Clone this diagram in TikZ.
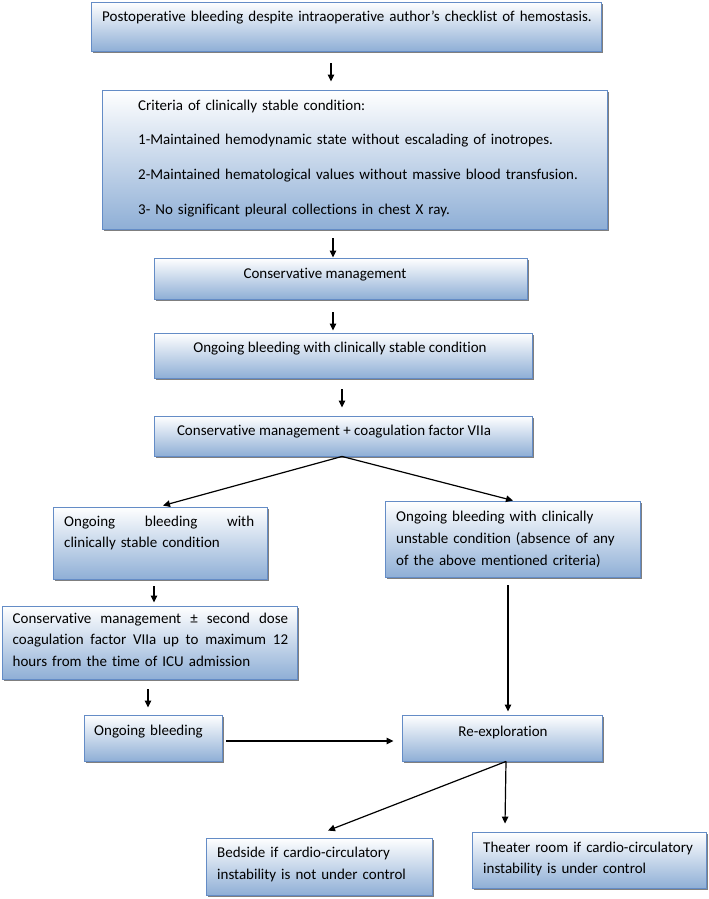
\documentclass[tikz,border=0pt]{standalone}
\usepackage{fontspec}
\setmainfont{Carlito}[Ligatures=NoCommon]
\usetikzlibrary{arrows.meta,shadows,calc}
\definecolor{bordc}{RGB}{100,140,198}
\definecolor{gradc}{RGB}{143,175,214}
\begin{document}
\begin{tikzpicture}[x=1pt,y=-1pt,
  box/.style={draw=bordc, line width=0.9pt, top color=white, bottom color=gradc,
    drop shadow={shadow xshift=2.2pt, shadow yshift=-2.2pt, fill=black, opacity=0.5},
    inner sep=0pt},
  txt/.style={anchor=base west, inner sep=0pt, align=left, font=\fontsize{15}{21.5}\selectfont},
  ctxt/.style={anchor=base, inner sep=0pt, font=\fontsize{15}{18}\selectfont},
  arr/.style={-{Triangle[length=7pt,width=6.5pt]}, line width=1.2pt, black}]
\useasboundingbox (0,0) rectangle (709,899);
\fill[white] (0,0) rectangle (709,899);

% boxes
\node[box, minimum width=510pt, minimum height=49pt] (b1) at (346,26.5) {};
\node[box, minimum width=505pt, minimum height=139pt] (b2) at (354.5,159.5) {};
\node[box, minimum width=373pt, minimum height=41pt] (b3) at (340.5,278.5) {};
\node[box, minimum width=378pt, minimum height=45pt] (b4) at (343,355.5) {};
\node[box, minimum width=378pt, minimum height=40pt] (b5) at (343,436) {};
\node[box, minimum width=214pt, minimum height=72pt] (b6) at (160,543) {};
\node[box, minimum width=255pt, minimum height=76pt] (b7) at (512.5,539) {};
\node[box, minimum width=295pt, minimum height=73pt] (b8) at (149.5,642.5) {};
\node[box, minimum width=138pt, minimum height=46pt] (b9) at (153,738) {};
\node[box, minimum width=200pt, minimum height=46pt] (b10) at (502,738) {};
\node[box, minimum width=226pt, minimum height=57pt] (b11) at (319,866.5) {};
\node[box, minimum width=234pt, minimum height=56pt] (b12) at (589,860) {};

% texts
\node[txt, text width=560pt] (t1) at (102,21.5) {Postoperative bleeding despite intraoperative author's checklist of hemostasis.};
\node[txt, text width=480pt, font=\fontsize{15}{34.7}\selectfont] (t2) at (138,110)
  {Criteria of clinically stable condition:\\
   1-Maintained hemodynamic state without escalading of inotropes.\\
   2-Maintained hematological values without massive blood transfusion.\\
   3- No significant pleural collections in chest X ray.};
\node[ctxt] (t3) at (325,278) {Conservative management};
\node[ctxt] (t4) at (340,352) {Ongoing bleeding with clinically stable condition};
\node[ctxt] (t5) at (334,435) {Conservative management + coagulation factor VIIa};
\node[txt, text width=190pt, font=\fontsize{15}{20.6}\selectfont] (t6) at (64,526.5)
  {Ongoing\hfill bleeding\hfill with\\ clinically stable condition};
\node[txt, text width=250pt, font=\fontsize{15}{22}\selectfont] (t7) at (396,521)
  {Ongoing bleeding with clinically\\ unstable condition (absence of any\\ of the above mentioned criteria)};
\node[txt, text width=275.5pt] (t8) at (12.5,623)
  {Conservative\hfill management\hfill ±\hfill second\hfill dose\\
   coagulation\hfill factor\hfill VIIa\hfill up\hfill to\hfill maximum\hfill 12\\
   hours from the time of ICU admission};
\node[txt, text width=125pt] (t9) at (94,735) {Ongoing bleeding};
\node[ctxt] (t10) at (503,736) {Re-exploration};
\node[txt, text width=215pt, font=\fontsize{15}{22}\selectfont] (t11) at (217,857)
  {Bedside if cardio-circulatory\\ instability is not under control};
\node[txt, text width=222pt] (t12) at (483,852)
  {Theater room if cardio-circulatory\\ instability is under control};

% connectors
\draw[arr] ($(b1.south)+(-15,12)$) -- ($(b2.north)+(-23.5,-8)$);
\draw[arr] ($(b2.south)+(-21.5,9)$) -- ($(b3.north)+(-7.5,0)$);
\draw[arr] ($(b3.south)+(-7.5,13)$) -- ($(b4.north)+(-10,-2)$);
\draw[arr] ($(b4.south)+(-1,11)$) -- ($(b5.north)+(-1,-8)$);
\draw[arr] ($(b5.south)+(-1,0)$) -- ($(b6.north)+(3,-1)$);
\draw[arr] ($(b5.south)+(-1,0)$) -- ($(b7.north)+(0.5,0)$);
\draw[arr] ($(b6.south)+(-6,7)$) -- ($(b8.north)+(4.5,-3)$);
\draw[arr] ($(b8.south)+(-1.5,10)$) -- ($(b9.north)+(-5,-7)$);
\draw[arr] ($(b9.east)+(4,3)$) -- ($(b10.west)+(-8,3)$);
\draw[arr] ($(b7.south)+(-4.5,8)$) -- ($(b10.north)+(6,-3)$);
\draw[arr] ($(b10.south)+(4,0)$) -- ($(b11.north)+(9,-7)$);
\draw[arr] ($(b10.south)+(4,0)$) -- ($(b12.north)+(-84,-8)$);
\end{tikzpicture}
\end{document}
